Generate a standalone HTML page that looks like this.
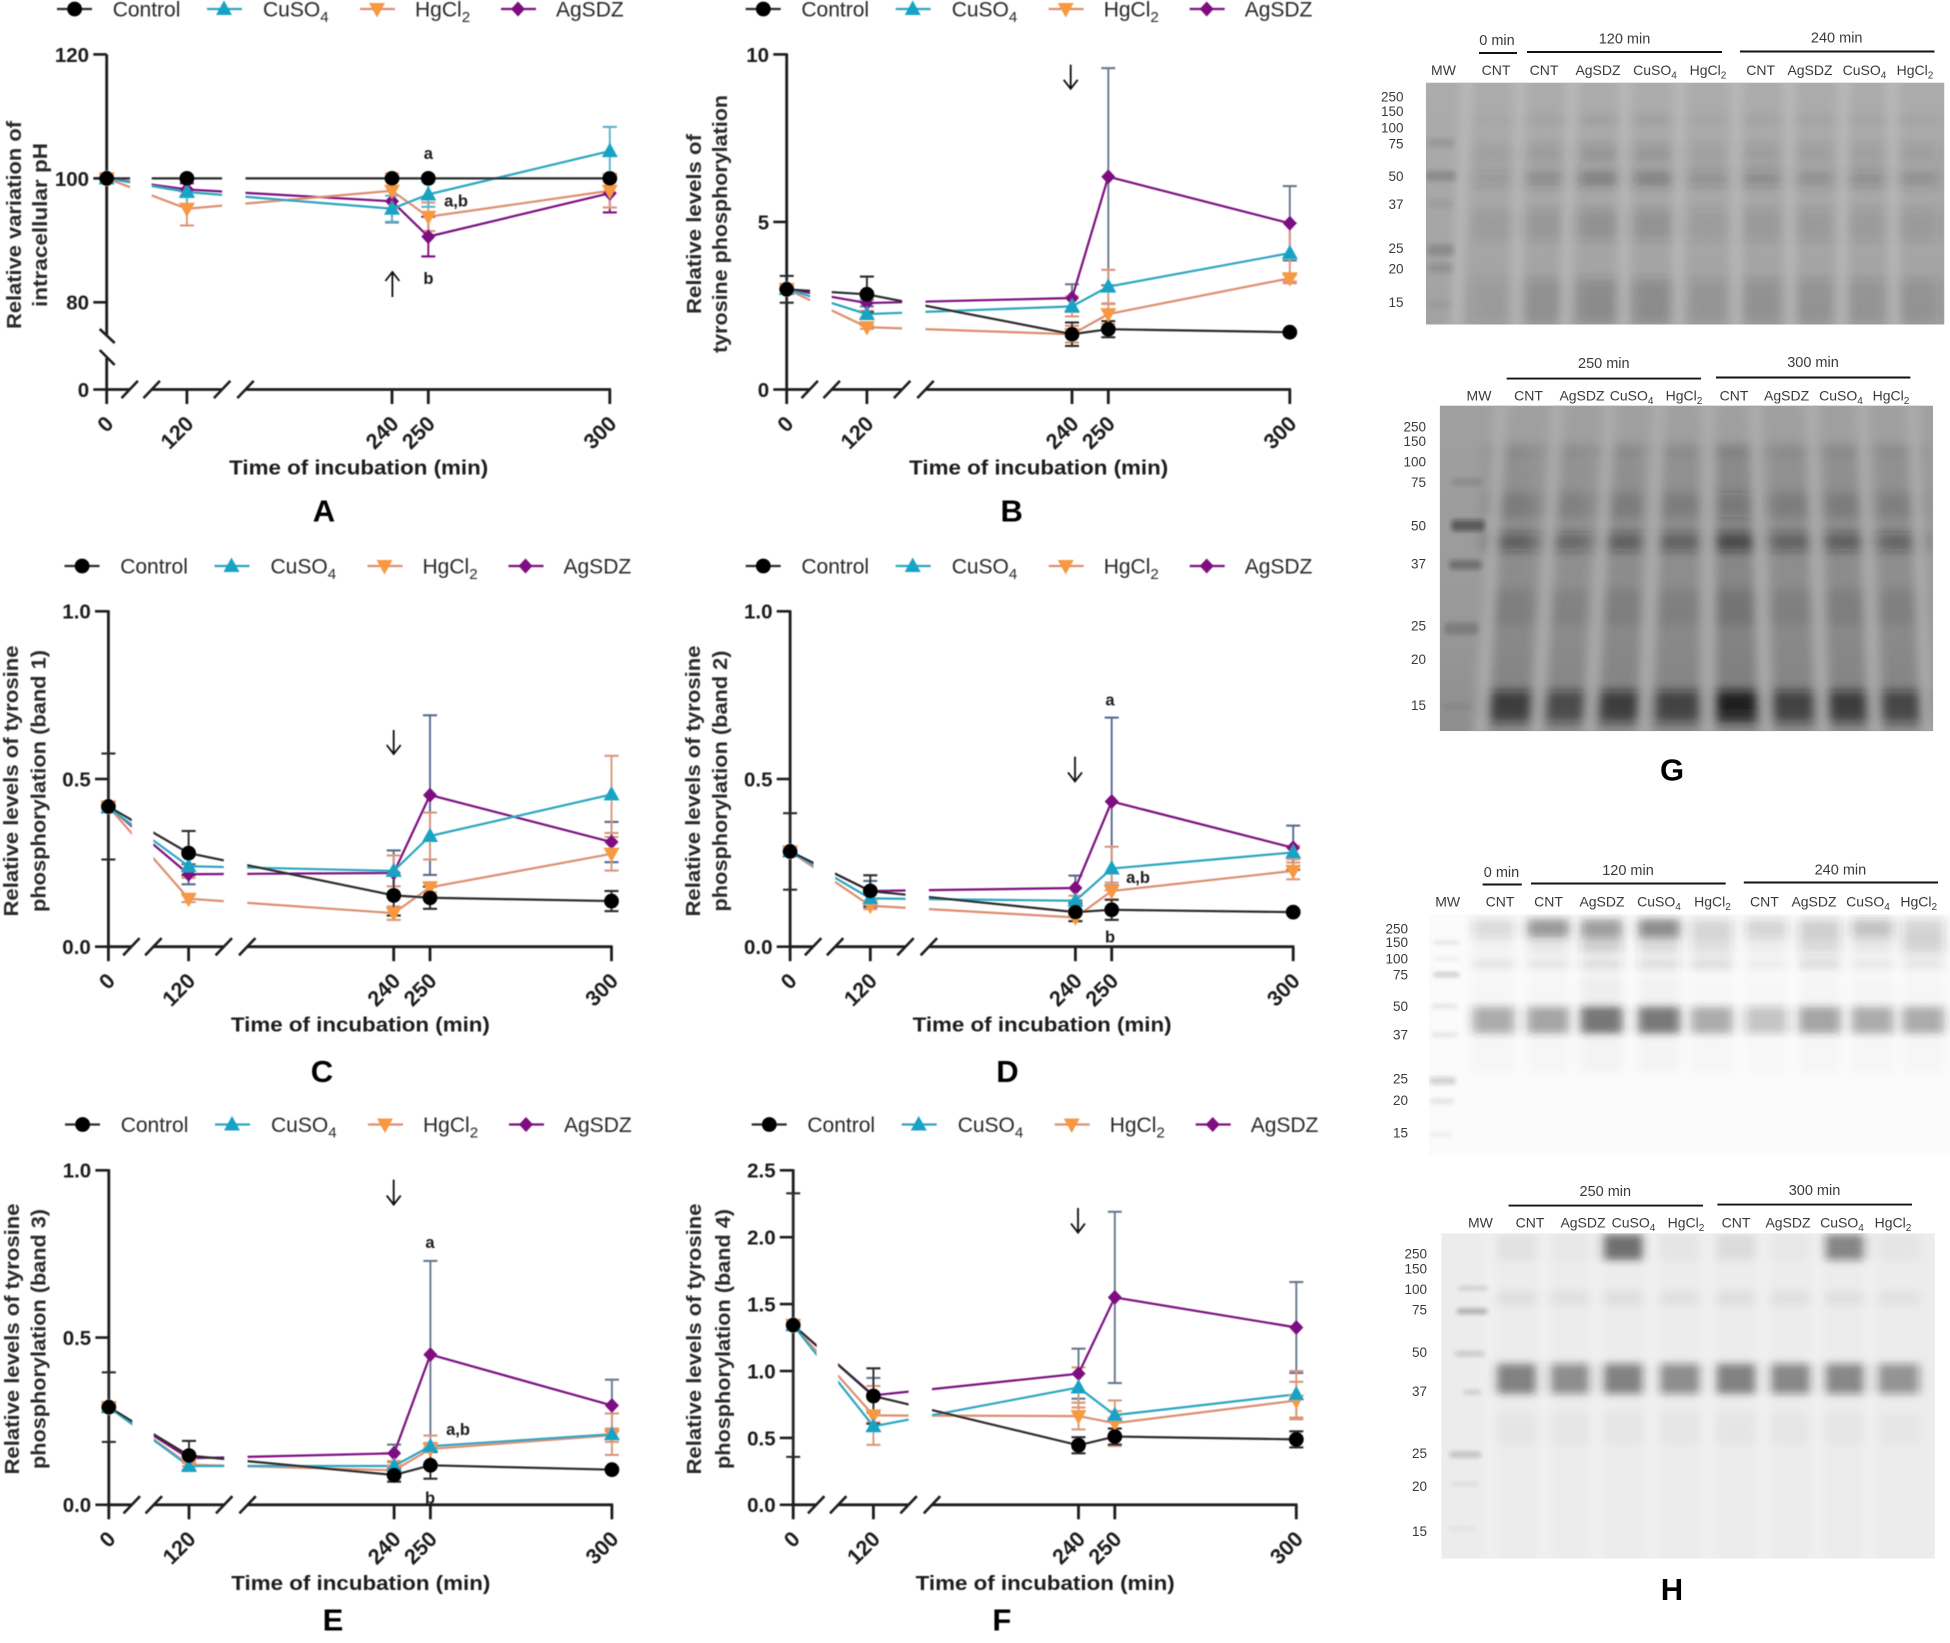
<!DOCTYPE html>
<html lang="en">
<head>
<meta charset="utf-8">
<title>Tyrosine phosphorylation and intracellular pH over incubation time</title>
<style>
html,body{margin:0;padding:0;background:#fff;}
svg{display:block;}
text{font-family:"Liberation Sans",sans-serif;}
</style>
</head>
<body>
<svg id="figure" xmlns="http://www.w3.org/2000/svg" width="1950" height="1643" viewBox="0 0 1950 1643">
<defs>
<filter id="soft" filterUnits="userSpaceOnUse" x="0" y="0" width="1950" height="1643"><feGaussianBlur stdDeviation="0.45"/></filter>
<filter id="b2" filterUnits="userSpaceOnUse" x="1300" y="0" width="700" height="1643"><feGaussianBlur stdDeviation="2.2"/></filter>
<filter id="b4" filterUnits="userSpaceOnUse" x="1300" y="0" width="700" height="1643"><feGaussianBlur stdDeviation="5 4"/></filter>
<filter id="b7" filterUnits="userSpaceOnUse" x="1300" y="0" width="700" height="1643"><feGaussianBlur stdDeviation="7 5"/></filter>
<linearGradient id="gel-g1" x1="0" y1="0" x2="0" y2="1"><stop offset="0" stop-color="#acacac"/><stop offset="1" stop-color="#a2a2a2"/></linearGradient>
<linearGradient id="gel-g2" x1="0" y1="0" x2="0" y2="1"><stop offset="0" stop-color="#a0a0a0"/><stop offset="0.6" stop-color="#9a9a9a"/><stop offset="1" stop-color="#8e8e8e"/></linearGradient>
</defs>
</svg>
<script>
/* ---------- shared data ---------- */
const timePoints = [0, 120, 240, 250, 300];
const timeTickLabels = ['0', '120', '240', '250', '300'];
const legendLabels = ['Control', 'CuSO_4', 'HgCl_2', 'AgSDZ'];
const xAxisTitle = 'Time of incubation (min)';

/* Panel A */
const aTicks = [0, 80, 100, 120];
const aControl = [100, 100, 100, 100, 100];
const aControlErr = [0, 0, 0, 0, 0];
const aCuso4 = [100, 97.8, 95.1, 97.4, 104.4];
const aCuso4Err = [0.6, 2, 2.1, 2, 3.9];
const aHgcl2 = [100, 95.1, 98, 93.8, 98];
const aHgcl2Err = [0.8, 2.7, 2.8, 2.3, 2.7];
const aAgsdz = [100, 98.2, 96.3, 90.6, 97.6];
const aAgsdzErr = [0.5, 1, 3.4, 3.2, 3.1];

/* Panel B */
const bTicks = [0, 5, 10];
const bControl = [2.99, 2.84, 1.65, 1.8, 1.71];
const bControlErr = [0.4, 0.53, 0.35, 0.24, 0];
const bCuso4 = [3, 2.25, 2.48, 3.07, 4.07];
const bCuso4Err = [0.1, 0.1, 0.3, 0.5, 0.9];
const bHgcl2 = [3, 1.86, 1.65, 2.25, 3.32];
const bHgcl2Err = [0.1, 0.05, 0.25, 0.3, 0.1];
const bAgsdz = [3, 2.58, 2.73, 6.35, 4.96];
const bAgsdzErr = [0.05, 0.1, 0.41, 3.24, 1.11];

/* Panel C */
const cTicks = [0, 0.5, 1];
const cControl = [0.418, 0.279, 0.153, 0.146, 0.136];
const cControlErr = [0.158, 0.066, 0.06, 0.033, 0.03];
const cCuso4 = [0.415, 0.24, 0.226, 0.33, 0.454];
const cCuso4Err = [0.01, 0.035, 0.046, 0.07, 0.115];
const cHgcl2 = [0.418, 0.143, 0.1, 0.177, 0.277];
const cHgcl2Err = [0.015, 0.01, 0.02, 0.015, 0.05];
const cAgsdz = [0.418, 0.216, 0.22, 0.452, 0.312];
const cAgsdzErr = [0.01, 0.03, 0.067, 0.238, 0.06];

/* Panel D */
const dTicks = [0, 0.5, 1];
const dControl = [0.284, 0.166, 0.103, 0.11, 0.103];
const dControlErr = [0.114, 0.047, 0.027, 0.03, 0];
const dCuso4 = [0.284, 0.144, 0.137, 0.233, 0.281];
const dCuso4Err = [0.01, 0.02, 0.015, 0.065, 0.02];
const dHgcl2 = [0.284, 0.122, 0.087, 0.166, 0.226];
const dHgcl2Err = [0.015, 0.01, 0.01, 0.025, 0.025];
const dAgsdz = [0.284, 0.166, 0.175, 0.433, 0.295];
const dAgsdzErr = [0.01, 0.03, 0.037, 0.25, 0.066];

/* Panel E */
const eTicks = [0, 0.5, 1];
const eControl = [0.292, 0.147, 0.089, 0.118, 0.105];
const eControlErr = [0.104, 0.044, 0.02, 0.04, 0];
const eCuso4 = [0.292, 0.116, 0.116, 0.175, 0.211];
const eCuso4Err = [0.01, 0.01, 0.015, 0.01, 0.062];
const eHgcl2 = [0.292, 0.12, 0.103, 0.167, 0.208];
const eHgcl2Err = [0.015, 0.005, 0.01, 0.04, 0.02];
const eAgsdz = [0.292, 0.139, 0.154, 0.449, 0.297];
const eAgsdzErr = [0.01, 0.005, 0.026, 0.28, 0.077];

/* Panel F */
const fTicks = [0, 0.5, 1, 1.5, 2, 2.5];
const fControl = [1.343, 0.813, 0.445, 0.51, 0.489];
const fControlErr = [0.985, 0.207, 0.06, 0.06, 0.06];
const fCuso4 = [1.343, 0.587, 0.877, 0.67, 0.826];
const fCuso4Err = [0.02, 0.03, 0.15, 0.03, 0.174];
const fHgcl2 = [1.343, 0.668, 0.663, 0.61, 0.779];
const fHgcl2Err = [0.04, 0.22, 0.1, 0.17, 0.14];
const fAgsdz = [1.343, 0.818, 0.98, 1.55, 1.325];
const fAgsdzErr = [0.02, 0.13, 0.187, 0.64, 0.34];

const SVGNS = 'http://www.w3.org/2000/svg';
const root = document.getElementById('figure');

function mk(parent, tag, attrs, name) {
  const el = document.createElementNS(SVGNS, tag);
  for (const k in attrs) el.setAttribute(k, attrs[k]);
  
  
  parent.appendChild(el);
  return el;
}
function txt(parent, str, x, y, o, name) {
  o = o || {};
  const a = {x: x, y: y, 'font-size': o.size || 20, fill: o.fill || '#1c1c1c'};
  if (o.weight) a['font-weight'] = o.weight;
  if (o.anchor) a['text-anchor'] = o.anchor;
  if (o.rot !== undefined) a.transform = 'rotate(' + o.rot + ' ' + x + ' ' + y + ')';
  if (o.len) { a.textLength = o.len; a.lengthAdjust = 'spacingAndGlyphs'; }
  const el = mk(parent, 'text', a, name);
  const parts = str.split('_');
  el.appendChild(document.createTextNode(parts[0]));
  if (parts[1]) {
    const s = document.createElementNS(SVGNS, 'tspan');
    s.setAttribute('dy', (o.size || 20) * 0.25);
    s.setAttribute('font-size', (o.size || 20) * 0.72);
    s.textContent = parts[1];
    el.appendChild(s);
  }
  return el;
}
function line(parent, x1, y1, x2, y2, color, w, name) {
  return mk(parent, 'line', {x1: x1, y1: y1, x2: x2, y2: y2, stroke: color, 'stroke-width': w}, name);
}

/* ---------- series styling ---------- */
const seriesStyle = [
  {key: 'control', line: '#2a2a2a', marker: '#050505', shape: 'circle'},
  {key: 'cuso4', line: '#2aa5c0', marker: '#14a3c4', shape: 'up'},
  {key: 'hgcl2', line: '#dc8e70', marker: '#f8983f', shape: 'down'},
  {key: 'agsdz', line: '#7c1180', marker: '#7d0a80', shape: 'diamond'}
];
function marker(parent, shape, x, y, color, name) {
  if (shape === 'circle') return mk(parent, 'circle', {cx: x, cy: y, r: 7.4, fill: color}, name);
  let pts;
  if (shape === 'up') pts = [[x, y - 8.5], [x + 8, y + 6], [x - 8, y + 6]];
  if (shape === 'down') pts = [[x, y + 8.5], [x + 8, y - 6], [x - 8, y - 6]];
  if (shape === 'diamond') pts = [[x, y - 7.5], [x + 7, y], [x, y + 7.5], [x - 7, y]];
  return mk(parent, 'polygon', {points: pts.map(p => p.join(',')).join(' '), fill: color}, name);
}

/* ---------- panels ---------- */
const GAP1 = [23, 45], GAP2 = [115.4, 138.8];
function timeOffset(t) {
  if (t < 60) return 3.63 * t;
  if (t < 180) return 80.2 + 3.63 * (t - 120);
  return 285.3 + 3.63 * (t - 240);
}
const panels = [
  {id: 'a', letter: 'A', ax: 106.7, top: 54.4, zero: 389.5, max: 120, brk: {val: 80, y: 302.3},
   ticks: aTicks, fmt: v => String(v),
   data: [[aControl, aControlErr], [aCuso4, aCuso4Err], [aHgcl2, aHgcl2Err], [aAgsdz, aAgsdzErr]],
   errCol: ['#2a2a2a', '#58b3c9', '#d9957a', '#7c1180'],
   titles: [['Relative variation of', 21, 208], ['intracellular pH', 47, 164]], titleY: 225,
   letterPos: [324, 521.7], legend: {dx: 0, y: 9}, arrow: {up: true, x: 392.4, y1: 272, y2: 297},
   notes: [['a', 428.4, 159], ['a,b', 456, 206.6], ['b', 428.4, 284]]},
  {id: 'b', letter: 'B', ax: 786.7, top: 54.4, zero: 389.5, max: 10,
   ticks: bTicks, fmt: v => String(v),
   data: [[bControl, bControlErr], [bCuso4, bCuso4Err], [bHgcl2, bHgcl2Err], [bAgsdz, bAgsdzErr]],
   errCol: ['#2a2a2a', '#d9957a', '#d9957a', '#66778f'],
   titles: [['Relative levels of', 701, 180], ['tyrosine phosphorylation', 727, 258]], titleY: 224,
   letterPos: [1011.7, 521.7], legend: {dx: 688.7, y: 9}, arrow: {x: 1070.7, y1: 64.7, y2: 88.8}, notes: []},
  {id: 'c', letter: 'C', ax: 108.4, top: 611.3, zero: 946.7, max: 1,
   ticks: cTicks, fmt: v => v.toFixed(1),
   data: [[cControl, cControlErr], [cCuso4, cCuso4Err], [cHgcl2, cHgcl2Err], [cAgsdz, cAgsdzErr]],
   errCol: ['#2a2a2a', '#d9957a', '#d9957a', '#56678f'],
   titles: [['Relative levels of tyrosine', 18, 271], ['phosphorylation (band 1)', 45.5, 262]], titleY: 781,
   letterPos: [322, 1082], legend: {dx: 7.5, y: 566}, arrow: {x: 393.7, y1: 730, y2: 754}, notes: []},
  {id: 'd', letter: 'D', ax: 790.1, top: 611.3, zero: 946.7, max: 1,
   ticks: dTicks, fmt: v => v.toFixed(1),
   data: [[dControl, dControlErr], [dCuso4, dCuso4Err], [dHgcl2, dHgcl2Err], [dAgsdz, dAgsdzErr]],
   errCol: ['#2a2a2a', '#d9957a', '#d9957a', '#56678f'],
   titles: [['Relative levels of tyrosine', 700, 271], ['phosphorylation (band 2)', 727, 261]], titleY: 781,
   letterPos: [1007.4, 1082], legend: {dx: 688.7, y: 566}, arrow: {x: 1075, y1: 756.6, y2: 781.4},
   notes: [['a', 1110, 705.6], ['a,b', 1138, 883], ['b', 1110, 942.5]]},
  {id: 'e', letter: 'E', ax: 108.8, top: 1170.3, zero: 1504.8, max: 1,
   ticks: eTicks, fmt: v => v.toFixed(1),
   data: [[eControl, eControlErr], [eCuso4, eCuso4Err], [eHgcl2, eHgcl2Err], [eAgsdz, eAgsdzErr]],
   errCol: ['#2a2a2a', '#d9957a', '#d9957a', '#66778f'],
   titles: [['Relative levels of tyrosine', 19, 271], ['phosphorylation (band 3)', 45.5, 260]], titleY: 1339,
   letterPos: [333, 1630.5], legend: {dx: 8, y: 1124.5}, arrow: {x: 393.7, y1: 1179.6, y2: 1204.6},
   notes: [['a', 430, 1248], ['a,b', 458, 1435], ['b', 430, 1503.4]]},
  {id: 'f', letter: 'F', ax: 793.2, top: 1170.3, zero: 1504.8, max: 2.5,
   ticks: fTicks, fmt: v => v.toFixed(1),
   data: [[fControl, fControlErr], [fCuso4, fCuso4Err], [fHgcl2, fHgcl2Err], [fAgsdz, fAgsdzErr]],
   errCol: ['#2a2a2a', '#d9957a', '#d9957a', '#66778f'],
   titles: [['Relative levels of tyrosine', 701, 271], ['phosphorylation (band 4)', 730, 260]], titleY: 1339,
   letterPos: [1001.8, 1630.5], legend: {dx: 694.7, y: 1124.5}, arrow: {x: 1078, y1: 1208, y2: 1232.6}, notes: []}
];

function drawPanel(p) {
  const g = mk(root, 'g', {filter: 'url(#soft)'}, 'panel-' + p.id);
  const xs = t => p.ax + timeOffset(t);
  const ys = v => {
    if (p.brk) {
      if (v >= p.brk.val) return p.brk.y - (v - p.brk.val) * (p.brk.y - p.top) / (p.max - p.brk.val);
      return p.zero - v * (p.zero - 365) / 60;
    }
    return p.zero - v * (p.zero - p.top) / p.max;
  };
  const xEnd = xs(300);

  /* clipping windows of the segmented x axis */
  const clip = mk(root.querySelector('defs'), 'clipPath', {id: 'clip-' + p.id}, 'segment-clip-' + p.id);
  [[-20, GAP1[0] + 0.4], [GAP1[1], GAP2[0]], [GAP2[1], 530]].forEach(w => {
    mk(clip, 'rect', {x: p.ax + w[0], y: p.top - 40, width: w[1] - w[0], height: p.zero - p.top + 60}, 'segment-window');
  });

  /* axes */
  const axisColor = '#1e1e1e';
  const axes = mk(g, 'g', {}, 'axes-' + p.id);
  if (p.brk) {
    line(axes, p.ax, p.top, p.ax, 336, axisColor, 2.8, 'y-axis-upper');
    line(axes, p.ax, 358, p.ax, p.zero, axisColor, 2.8, 'y-axis-lower');
    line(axes, p.ax - 7, 329, p.ax + 8, 343, axisColor, 2.6, 'y-axis-break-mark');
    line(axes, p.ax - 7, 350, p.ax + 8, 365, axisColor, 2.6, 'y-axis-break-mark');
  } else {
    line(axes, p.ax, p.top - 1, p.ax, p.zero, axisColor, 2.8, 'y-axis');
  }
  [[0, GAP1[0]], [GAP1[1], GAP2[0]], [GAP2[1], xEnd - p.ax + 1.2]].forEach(s => {
    line(axes, p.ax + s[0], p.zero, p.ax + s[1], p.zero, axisColor, 2.8, 'x-axis-segment');
  });
  [GAP1[0], GAP1[1], GAP2[0], GAP2[1]].forEach(s => {
    line(axes, p.ax + s - 8.2, p.zero + 8.6, p.ax + s + 8.2, p.zero - 8.6, axisColor, 2.6, 'x-axis-break-mark');
  });
  p.ticks.forEach(v => {
    line(axes, p.ax - 13.4, ys(v), p.ax, ys(v), axisColor, 2.6, 'y-tick');
    txt(axes, p.fmt(v), p.ax - 17.6, ys(v) + 7.4, {size: 20.5, weight: 'bold', anchor: 'end'}, 'y-tick-label');
  });
  timePoints.forEach((t, i) => {
    line(axes, xs(t), p.zero, xs(t), p.zero + 14.5, axisColor, 2.8, 'x-tick');
    txt(axes, timeTickLabels[i], xs(t) + 8, p.zero + 35.5, {size: 21.5, weight: 'bold', anchor: 'end', rot: -45}, 'x-tick-label');
  });

  /* titles */
  txt(g, xAxisTitle, p.ax + 252, p.zero + 85, {size: 20, weight: 'bold', anchor: 'middle', len: 259}, 'x-axis-title');
  p.titles.forEach(t => {
    txt(g, t[0], t[1], p.titleY, {size: 20, weight: 'bold', anchor: 'middle', rot: -90, len: t[2], fill: '#2a2a2a'}, 'y-axis-title');
  });
  txt(g, p.letter, p.letterPos[0], p.letterPos[1], {size: 31, weight: 'bold', anchor: 'middle', fill: '#000'}, 'panel-letter');

  /* series */
  const order = [3, 2, 1, 0];
  order.forEach(si => {
    const sg = mk(g, 'g', {}, 'series-' + seriesStyle[si].key);
    const vals = p.data[si][0], errs = p.data[si][1];
    vals.forEach((v, i) => {
      const e = errs[i];
      if (!e) return;
      const x = xs(timePoints[i]);
      const lo = Math.max(v - e, 0);
      const c = p.errCol[si];
      line(sg, x, ys(v + e), x, ys(lo), c, 1.9, 'error-bar');
      line(sg, x - 7, ys(v + e), x + 7, ys(v + e), c, 2.1, 'error-cap-top');
      line(sg, x - 7, ys(lo), x + 7, ys(lo), c, 2.1, 'error-cap-bottom');
    });
  });
  order.forEach(si => {
    const st = seriesStyle[si];
    const vals = p.data[si][0];
    const pts = vals.map((v, i) => xs(timePoints[i]) + ',' + ys(v)).join(' ');
    mk(g, 'polyline', {points: pts, fill: 'none', stroke: st.line, 'stroke-width': 2.2, 'clip-path': 'url(#clip-' + p.id + ')'}, 'line-' + st.key);
  });
  order.forEach(si => {
    const st = seriesStyle[si];
    p.data[si][0].forEach((v, i) => {
      marker(g, st.shape, xs(timePoints[i]), ys(v), st.marker, 'point-' + st.key);
    });
  });

  /* legend */
  const leg = mk(g, 'g', {}, 'legend-' + p.id);
  const slots = [[57, 74.6, 112.7], [207, 224, 263], [360, 377, 415], [501, 518, 556]];
  seriesStyle.forEach((st, i) => {
    const s = slots[i], d = p.legend.dx, y = p.legend.y;
    const entry = mk(leg, 'g', {}, 'legend-entry-' + st.key);
    line(entry, s[0] + d, y, s[0] + d + 35, y, st.line, 2.2, 'legend-line');
    marker(entry, st.shape, s[1] + d, y, st.marker, 'legend-marker');
    txt(entry, legendLabels[i], s[2] + d, y + 7.5, {size: 21, fill: '#2a2a2a'}, 'legend-label');
  });

  /* arrow */
  const a = p.arrow;
  const head = a.up ? a.y1 : a.y2, dir = a.up ? 1 : -1;
  line(g, a.x, a.y1, a.x, a.y2, '#111', 1.8, 'treatment-arrow');
  mk(g, 'polyline', {points: (a.x - 7) + ',' + (head + dir * 9) + ' ' + a.x + ',' + head + ' ' + (a.x + 7) + ',' + (head + dir * 9), fill: 'none', stroke: '#111', 'stroke-width': 1.8}, 'treatment-arrow-head');

  /* significance letters */
  p.notes.forEach(n => {
    txt(g, n[0], n[1], n[2], {size: 16.5, weight: 'bold', anchor: 'middle'}, 'significance-letter');
  });
}
panels.forEach(drawPanel);

/* ---------- western blots (decorative images, not data charts) ---------- */
const GX = 1568 / 590, GY1 = 1568 / 800, GY2 = 1568 / 803;
function drawGel(c) {
  const X = v => 1360 + v / GX;
  const Y = v => c.off + v / c.sy;
  const g = mk(root, 'g', {}, c.name);
  const id = 'clip-' + c.name;
  const clip = mk(root.querySelector('defs'), 'clipPath', {id: id}, 'gel-clip');
  const bx = X(c.box[0]), by = Y(c.box[1]), bw = X(c.box[2]) - bx, bh = Y(c.box[3]) - by;
  mk(clip, 'rect', {x: bx, y: by, width: bw, height: bh}, 'gel-clip-rect');
  const inner = mk(g, 'g', {'clip-path': 'url(#' + id + ')'}, c.name + '-image');
  mk(inner, 'rect', {x: bx, y: by, width: bw, height: bh, fill: c.bg}, 'gel-background');
  const bands = mk(inner, 'g', {filter: 'url(#' + (c.blur || 'b7') + ')'}, 'gel-bands');
  c.lanes.forEach((lx, li) => {
    c.bands.forEach(b => {
      const scale = b[3] ? b[3][li] : c.intensity[li];
      mk(bands, 'rect', {x: X(lx - c.w / 2), y: Y(b[0] - b[1] / 2), width: c.w / GX, height: b[1] / c.sy, fill: c.ink, opacity: Math.min(1, b[2] * scale)}, 'protein-band');
    });
  });
  const streaks = mk(inner, 'g', {filter: 'url(#b4)'}, 'gel-streaks');
  c.streaks.forEach(s => {
    const t = by - 5, b = by + bh + 5, hw = (c.sw || 30) / GX / 2;
    const pts = [[X(s[0]) - hw, t], [X(s[0]) + hw, t], [X(s[1]) + hw, b], [X(s[1]) - hw, b]];
    mk(streaks, 'polygon', {points: pts.map(q => q.join(',')).join(' '), fill: c.light, opacity: c.lightOp || 0.9}, 'lane-gap-streak');
  });
  const mw = mk(inner, 'g', {filter: 'url(#b2)'}, 'marker-ladder-bands');
  c.mw.forEach(m => {
    mk(mw, 'rect', {x: X(m[0] - m[1] / 2), y: Y(m[2] - m[3] / 2), width: m[1] / GX, height: m[3] / c.sy, fill: c.ink, opacity: m[4], rx: 3}, 'ladder-band');
  });
  const lab = mk(g, 'g', {}, c.name + '-labels');
  const F = {size: 14, fill: '#3a3a3a'};
  c.headers.forEach(h => {
    txt(lab, h[0], h[1], h[2], {size: 14.5, fill: '#3a3a3a', anchor: 'middle'}, 'time-header');
    line(lab, h[3], h[5], h[4], h[5], '#111', 1.9, 'time-header-rule');
  });
  c.sub.forEach(s => {
    txt(lab, s[0], s[1], c.subY, {size: F.size, fill: F.fill, anchor: 'middle'}, 'lane-label');
  });
  c.weights.forEach(w => {
    txt(lab, w[0], c.wx, Y(w[1]) + 4.8, {size: 13.5, fill: '#3a3a3a', anchor: 'end'}, 'molecular-weight-label');
  });
}
drawGel({
  name: 'gel-g-top', off: 0, sy: GY1, box: [175, 162, 1553, 636], bg: 'url(#gel-g1)', ink: '#2d2d2d',
  light: '#bebebe', lightOp: 0.7, w: 118,
  lanes: [355, 490, 635, 780, 925, 1065, 1205, 1345, 1480],
  intensity: [0.4, 0.8, 1.1, 1.05, 0.6, 0.75, 0.7, 0.65, 0.7],
  bands: [[235, 10, 0.12], [302, 36, 0.14], [350, 28, 0.3], [440, 60, 0.15], [590, 85, 0.2]],
  streaks: [[285, 255], [425, 415], [565, 545], [705, 700], [850, 845], [1000, 1000], [1140, 1145], [1285, 1280], [1415, 1420]],
  sw: 32,
  mw: [[215, 72, 280, 16, 0.14], [215, 80, 345, 20, 0.24], [215, 62, 400, 14, 0.1], [215, 70, 490, 22, 0.2], [215, 65, 525, 18, 0.16], [215, 60, 597, 16, 0.08]],
  headers: [['0 min', 1497, 45, 1479, 1517, 53], ['120 min', 1624.5, 43.4, 1527, 1722, 52], ['240 min', 1836.7, 42.3, 1740, 1934.5, 51.5]],
  subY: 75,
  sub: [['MW', 1443.5], ['CNT', 1496], ['CNT', 1544], ['AgSDZ', 1598], ['CuSO_4', 1655], ['HgCl_2', 1708], ['CNT', 1760.7], ['AgSDZ', 1810], ['CuSO_4', 1864.5], ['HgCl_2', 1915]],
  wx: 1403.5,
  weights: [['250', 190], ['150', 218], ['100', 250], ['75', 282], ['50', 345], ['37', 400], ['25', 486], ['20', 527], ['15', 592]]
});
drawGel({
  name: 'gel-g-bottom', off: 0, sy: GY1, box: [212, 795, 1523, 1433], bg: 'url(#gel-g2)', ink: '#141414',
  light: '#adadad', lightOp: 0.9, w: 132,
  lanes: [400, 545, 690, 845, 1000, 1150, 1295, 1440],
  intensity: [0.95, 0.8, 0.95, 0.9, 1.3, 0.9, 0.95, 0.85],
  bands: [[885, 8, 0.12], [1130, 520, 0.1], [990, 48, 0.14], [1062, 36, 0.42], [1190, 70, 0.1], [1385, 62, 0.66]],
  streaks: [[375, 320], [525, 470], [665, 610], [795, 755], [925, 925], [1050, 1080], [1200, 1230], [1335, 1370], [1470, 1510]],
  sw: 38,
  mw: [[285, 82, 945, 16, 0.1], [287, 88, 1030, 22, 0.48], [280, 85, 1107, 18, 0.34], [270, 90, 1232, 24, 0.17], [260, 80, 1385, 14, 0.06]],
  headers: [['250 min', 1603.8, 368, 1506.7, 1701, 378.6], ['300 min', 1813, 367, 1716, 1910.4, 377.5]],
  subY: 400.5,
  sub: [['MW', 1479], ['CNT', 1528.5], ['AgSDZ', 1582], ['CuSO_4', 1631.6], ['HgCl_2', 1684], ['CNT', 1734], ['AgSDZ', 1786.6], ['CuSO_4', 1841], ['HgCl_2', 1891]],
  wx: 1426,
  weights: [['250', 836], ['150', 865], ['100', 905], ['75', 945], ['50', 1030], ['37', 1105], ['25', 1226], ['20', 1292], ['15', 1382]]
});
drawGel({
  name: 'gel-h-top', off: 840, sy: GY2, box: [183, 145, 1568, 615], bg: '#fbfbfb', ink: '#222',
  light: '#fafafa', lightOp: 0.35, w: 112, blur: 'b4',
  lanes: [355, 500, 642, 795, 935, 1080, 1222, 1362, 1497],
  intensity: [0.6, 0.65, 1, 0.95, 0.6, 0.45, 0.65, 0.6, 0.6],
  bands: [
    [172, 36, 0.5, [0.3, 0.9, 0.85, 1, 0.35, 0.35, 0.4, 0.5, 0.35]],
    [205, 34, 0.2, [0.2, 0.4, 1, 0.8, 0.7, 0.3, 0.8, 0.4, 0.9]],
    [242, 24, 0.14, [0.6, 0.6, 1, 1, 0.8, 0.4, 0.8, 0.5, 0.6]],
    [300, 70, 0.05, [0.4, 0.4, 1, 0.7, 0.3, 0.3, 0.5, 0.5, 0.4]],
    [352, 52, 0.62, [0.6, 0.65, 1, 0.95, 0.6, 0.4, 0.65, 0.6, 0.6]],
    [420, 70, 0.03]
  ],
  streaks: [], sw: 20,
  mw: [[230, 70, 200, 5, 0.14], [230, 70, 232, 4, 0.1], [230, 70, 263, 6, 0.3], [225, 70, 325, 8, 0.1], [225, 70, 380, 8, 0.1], [220, 70, 470, 14, 0.2], [218, 65, 510, 10, 0.1], [215, 60, 575, 10, 0.05]],
  headers: [['0 min', 1501.5, 876.9, 1482.6, 1521.8, 884.5], ['120 min', 1628, 874.8, 1531, 1725.7, 883.5], ['240 min', 1840.4, 874.3, 1743.8, 1938, 882.5]],
  subY: 906.6,
  sub: [['MW', 1447.7], ['CNT', 1500], ['CNT', 1548.5], ['AgSDZ', 1602], ['CuSO_4', 1659], ['HgCl_2', 1712.5], ['CNT', 1764.4], ['AgSDZ', 1814], ['CuSO_4', 1868], ['HgCl_2', 1918.7]],
  wx: 1408,
  weights: [['250', 173], ['150', 200], ['100', 232], ['75', 263], ['50', 325], ['37', 380], ['25', 466], ['20', 508], ['15', 572]]
});
drawGel({
  name: 'gel-h-bottom', off: 840, sy: GY2, box: [216, 768, 1528, 1403], bg: '#ececec', ink: '#1c1c1c',
  light: '#f4f4f4', lightOp: 0.6, w: 112, blur: 'b4',
  lanes: [415, 557, 698, 850, 1000, 1145, 1290, 1430],
  intensity: [1, 0.85, 0.95, 0.85, 1, 0.9, 0.9, 0.8],
  bands: [
    [795, 50, 0.6, [0.08, 0.03, 1, 0.05, 0.12, 0.03, 0.8, 0.05]],
    [895, 28, 0.06],
    [1052, 58, 0.52],
    [1150, 60, 0.03]
  ],
  streaks: [[345, 345], [490, 490], [630, 630], [775, 775], [925, 925], [1070, 1070], [1215, 1215], [1355, 1355]], sw: 30,
  mw: [[300, 80, 875, 6, 0.18], [298, 82, 920, 10, 0.32], [292, 80, 1003, 9, 0.2], [298, 50, 1078, 6, 0.2], [280, 85, 1200, 10, 0.24], [278, 75, 1258, 7, 0.08], [270, 70, 1345, 7, 0.05]],
  headers: [['250 min', 1605.3, 1195.9, 1508.6, 1703, 1205.6], ['300 min', 1814.5, 1194.8, 1717.4, 1912, 1204.6]],
  subY: 1227.6,
  sub: [['MW', 1480.4], ['CNT', 1530], ['AgSDZ', 1583], ['CuSO_4', 1633.5], ['HgCl_2', 1686], ['CNT', 1736], ['AgSDZ', 1788], ['CuSO_4', 1842], ['HgCl_2', 1893]],
  wx: 1427,
  weights: [['250', 808], ['150', 837], ['100', 877], ['75', 917], ['50', 1000], ['37', 1076], ['25', 1197], ['20', 1262], ['15', 1350]]
});
txt(root, 'G', 1672, 780.6, {size: 31, weight: 'bold', anchor: 'middle', fill: '#000'}, 'panel-letter-g');
txt(root, 'H', 1672, 1600, {size: 31, weight: 'bold', anchor: 'middle', fill: '#000'}, 'panel-letter-h');
</script>
</body>
</html>
